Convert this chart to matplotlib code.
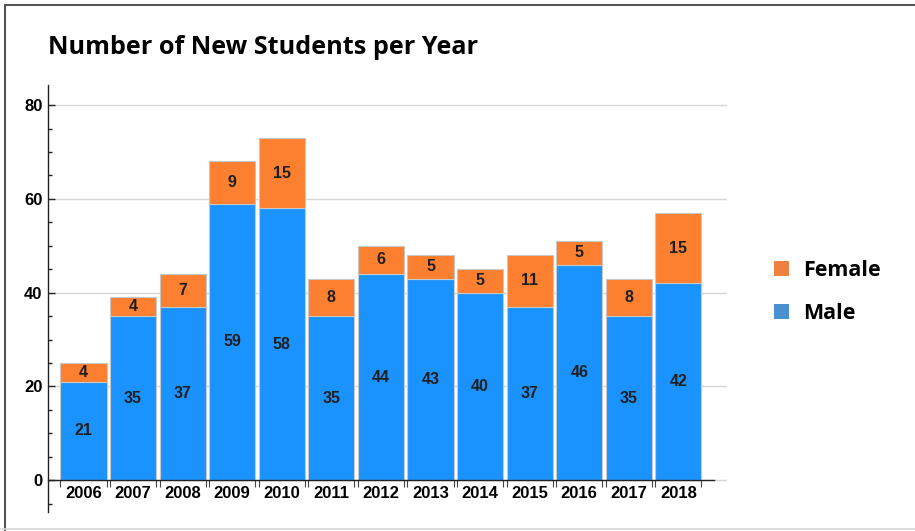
import matplotlib
matplotlib.use("Agg")
import matplotlib.pyplot as plt
from matplotlib.patches import Patch
from matplotlib.lines import Line2D
import numpy as np

# ── Data ──────────────────────────────────────────────────────────────────────
years = ["2006", "2007", "2008", "2009", "2010", "2011", "2012",
         "2013", "2014", "2015", "2016", "2017", "2018"]
male = [21, 35, 37, 59, 58, 35, 44, 43, 40, 37, 46, 35, 42]
female = [4, 4, 7, 9, 15, 8, 6, 5, 5, 11, 5, 8, 15]

MALE_C = "#1b93ff"
FEMALE_C = "#fd7f30"
LEG_MALE_C = "#4a90d0"
LEG_FEMALE_C = "#ee8040"
ARIAL = "Liberation Sans"
SEGOE = "Open Sans"

W, H = 915, 531
fig = plt.figure(figsize=(W / 100, H / 100), dpi=100)
ax = fig.add_axes([48 / W, 1 - 512 / H, (727 - 48) / W, (512 - 85) / H])

x = np.arange(len(years))
bw = 0.93
ax.bar(x, male, width=bw, color=MALE_C, edgecolor="#c8c8c8", linewidth=0.8, zorder=3)
ax.bar(x, female, width=bw, bottom=male, color=FEMALE_C, edgecolor="#c8c8c8",
       linewidth=0.8, zorder=3)

# value labels in the middle of each segment
for i, (m, f) in enumerate(zip(male, female)):
    ax.text(i, m / 2, str(m), ha="center", va="center", fontsize=11.5,
            fontweight="bold", family=ARIAL, color="#1e1e1e", zorder=4)
    ax.text(i, m + f / 2, str(f), ha="center", va="center", fontsize=11.5,
            fontweight="bold", family=ARIAL, color="#1e1e1e", zorder=4)

ax.set_xlim(-0.716, 12.98)
ax.set_ylim(-6.8, 84.3)

# grid
for g in [0, 20, 40, 60, 80]:
    ax.axhline(g, color="#d6d6d6", linewidth=1, zorder=1)

# spines
for s in ["top", "right"]:
    ax.spines[s].set_visible(False)
ax.spines["left"].set_color("#222222")
ax.spines["left"].set_linewidth(1)
ax.spines["bottom"].set_position(("data", 0))
ax.spines["bottom"].set_bounds(-0.716, 12.72)
ax.spines["bottom"].set_color("#222222")
ax.spines["bottom"].set_linewidth(1)
ax.spines["bottom"].set_zorder(5)

# y ticks
ax.set_yticks([0, 20, 40, 60, 80])
ax.set_yticks([v for v in range(-5, 85, 5) if v % 20 != 0], minor=True)
ax.tick_params(axis="y", which="major", direction="in", length=5, width=1,
               color="#222222", pad=4)
ax.tick_params(axis="y", which="minor", direction="in", length=3, width=1,
               color="#222222")
for lab in ax.get_yticklabels():
    lab.set_fontfamily(ARIAL)
    lab.set_fontweight("bold")
    lab.set_fontsize(12)

# x ticks: labels at bar centres, small ticks at the bar edges
ax.set_xticks(x)
ax.set_xticklabels(years, fontfamily=ARIAL, fontweight="bold", fontsize=12)
ax.set_xticks(np.concatenate([x - bw / 2, x + bw / 2]), minor=True)
ax.tick_params(axis="x", which="major", length=0, pad=4)
ax.tick_params(axis="x", which="minor", direction="out", length=5, width=0.8,
               color="#444444")

# title
fig.text(48 / W, 1 - 47 / H, "Number of New Students per Year", fontsize=18.2,
         fontweight="bold", family=SEGOE, ha="left", va="center")

# legend
handles = [Patch(facecolor=LEG_FEMALE_C, label="Female"),
           Patch(facecolor=LEG_MALE_C, label="Male")]
fig.legend(handles=handles, loc="center left",
           bbox_to_anchor=(774 / W, 1 - 292 / H), frameon=False,
           prop={"family": SEGOE, "weight": "bold", "size": 15.5},
           handlelength=0.7, handleheight=0.7, handletextpad=0.65,
           labelspacing=1.05, borderpad=0, borderaxespad=0)

# outer frame
fig.add_artist(Line2D([4.5 / W, 4.5 / W], [0, 1 - 4.5 / H], transform=fig.transFigure,
                      color="#555555", linewidth=1.5))
fig.add_artist(Line2D([4.5 / W, 1], [1 - 4.5 / H, 1 - 4.5 / H], transform=fig.transFigure,
                      color="#555555", linewidth=1.5))
fig.add_artist(Line2D([0, 1], [1 - 529 / H, 1 - 529 / H], transform=fig.transFigure,
                      color="#d8d8d8", linewidth=1.2))

fig.savefig("out.png", dpi=100)
